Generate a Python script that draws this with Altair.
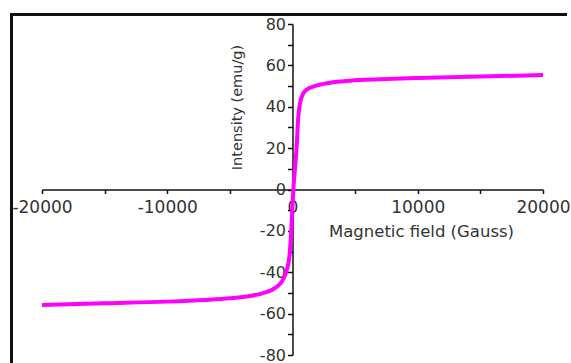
import altair as alt
import pandas as pd

field = [-20000, -15000, -10000, -7000, -5000, -3400, -2400, -1660, -1200, -860, -600, -460, -250, -100,
         0, 100, 200, 335, 460, 600, 860, 1200, 1660, 3000, 4600, 7000, 10000, 15000, 20000]
moment = [-55.8, -55.0, -54.2, -53.4, -52.6, -51.5, -50.2, -48.6, -46.8, -44.6, -41.5, -38.9, -32.5, -20.0,
          -8.0, 3.0, 10.0, 21.0, 35.0, 41.7, 46.5, 48.5, 49.7, 51.6, 52.6, 53.3, 53.9, 54.6, 55.3]

x_ticks = list(range(-20000, 20001, 5000))
y_ticks = list(range(-80, 81, 10))

df = pd.DataFrame({"field": field, "moment": moment})

W, H = 501, 331
FONT = "DejaVu Sans"

line = alt.Chart(df).mark_line(color="#ff00ff", strokeWidth=4, interpolate="monotone").encode(
    x=alt.X("field:Q", scale=alt.Scale(domain=[-20000, 20000], nice=False),
            axis=alt.Axis(values=x_ticks, labelExpr="datum.value % 10000 == 0 ? datum.value : ''",
                          offset=-H / 2, grid=False, domainColor="#111", domainWidth=1.5,
                          tickColor="#111", tickWidth=1.5, tickSize=4, labelFontSize=17,
                          labelColor="#333", labelFont=FONT, labelPadding=6,
                          title="Magnetic field (Gauss)", titleFont=FONT,
                          titleFontSize=16.5, titleFontWeight="normal", titleColor="#333",
                          titleX=379, titleY=42, titleBaseline="middle",
                          titleAlign="center", labelFlush=False, labelOverlap=False)),
    y=alt.Y("moment:Q", scale=alt.Scale(domain=[-80, 80], nice=False),
            axis=alt.Axis(values=y_ticks, labelExpr="datum.value % 20 == 0 ? datum.value : ''",
                          offset=-250.5, grid=False, domainColor="#111", domainWidth=1.5,
                          tickColor="#111", tickWidth=1.5, tickSize=5, labelFontSize=16,
                          labelColor="#333", labelFont=FONT, labelPadding=2,
                          title="Intensity (emu/g)", titleFont=FONT,
                          titleFontSize=14.5, titleFontWeight="normal", titleColor="#333",
                          titleX=-55.5, titleY=83, titleAngle=-90, titleBaseline="middle",
                          titleAlign="center", labelFlush=False, labelOverlap=False)),
)

top_rule = alt.Chart(df).mark_rule(color="#111", strokeWidth=3).encode(
    x=alt.value(-31), x2=alt.value(525), y=alt.value(-9.5))
left_rule = alt.Chart(df).mark_rule(color="#111", strokeWidth=3).encode(
    x=alt.value(-30.5), y=alt.value(-11), y2=alt.value(H + 10))

chart = alt.layer(top_rule, left_rule, line).properties(
    width=W, height=H,
    padding={"left": 42, "top": 24, "right": 28, "bottom": 8},
    autosize=alt.AutoSizeParams(type="none"),
    background="white",
).configure_view(stroke=None)

chart.save("out.html", embed_options={"renderer": "svg", "actions": False})
